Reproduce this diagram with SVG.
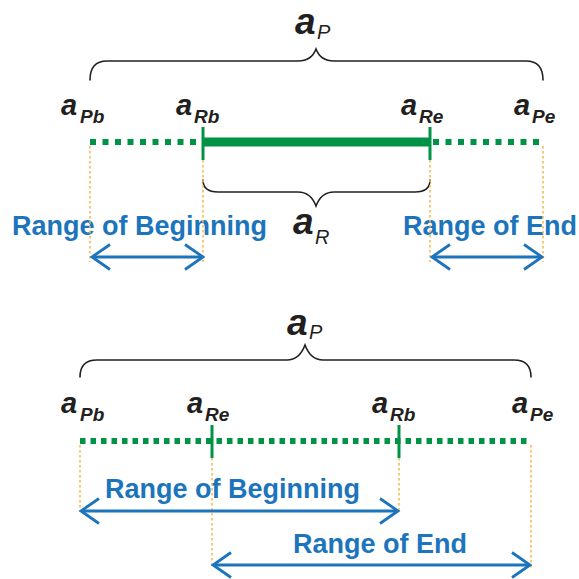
<svg xmlns="http://www.w3.org/2000/svg" width="579" height="579" viewBox="0 0 579 579">
<style>
.bg{fill:#ffffff}
.brace{fill:none;stroke:#231F20;stroke-width:1.6;stroke-linecap:round}
.big{font-family:"Liberation Sans",Arial,sans-serif;font-weight:bold;font-style:italic;font-size:37px;fill:#231F20}
.bigsub{font-family:"Liberation Sans",Arial,sans-serif;font-style:italic;font-size:20px;fill:#231F20}
.lab{font-family:"Liberation Sans",Arial,sans-serif;font-weight:bold;font-style:italic;font-size:29px;fill:#231F20}
.labsub{font-family:"Liberation Sans",Arial,sans-serif;font-weight:bold;font-style:italic;font-size:19px;fill:#231F20}
.range{font-family:"Liberation Sans",Arial,sans-serif;font-weight:bold;font-size:27px;fill:#1C75BC}
.dotT{stroke:#009245;stroke-width:6;stroke-dasharray:6 6.5;fill:none}
.dotB{stroke:#009245;stroke-width:6;stroke-dasharray:5.5 5;fill:none}
.thick{stroke:#009245;stroke-width:9;fill:none}
.tick{stroke:#009245;stroke-width:3;fill:none}
.guide{stroke:#F7B54A;stroke-width:1.5;stroke-dasharray:2.5 2.5;fill:none}
.arrow{stroke:#1C75BC;stroke-width:2.8;fill:none;marker-start:url(#chev);marker-end:url(#chev)}
</style>
<defs>
<marker id="chev" markerUnits="userSpaceOnUse" markerWidth="26" markerHeight="32" viewBox="-22 -16 26 32" refX="0" refY="0" orient="auto-start-reverse" overflow="visible">
<path d="M-18,-12.5 L0,0 L-18,12.5" fill="none" stroke="#1C75BC" stroke-width="2.8"/>
</marker>
</defs>
<rect class="bg" x="0" y="0" width="579" height="579"/>

<!-- ===== Top panel ===== -->
<g id="top-aP">
<path class="brace" d="M90,80 C90,68 95,61 107,61 L298,61 C308,61 313,57 316,49 C319,57 324,61 334,61 L526,61 C538,61 543,68 543,80"/>
<text class="big" x="295" y="34">a</text><text class="bigsub" x="317" y="39">P</text>
</g>
<g id="top-aR">
<path class="brace" d="M203,180 C203,187 207,192 218,192 L298,192 C308,192 313,198 316,206 C319,198 324,192 334,192 L415,192 C426,192 430,187 430,180"/>
<text class="big" x="293" y="234">a</text><text class="bigsub" x="315" y="244">R</text>
</g>
<g id="top-line">
<line class="dotT" x1="90" y1="142" x2="203" y2="142"/>
<line class="thick" x1="203" y1="142" x2="430" y2="142"/>
<line class="dotT" x1="433" y1="142" x2="543" y2="142"/>
<line class="tick" x1="203" y1="127" x2="203" y2="160"/>
<line class="tick" x1="430" y1="127" x2="430" y2="160"/>
</g>
<g id="top-aPb"><text class="lab" x="61" y="115">a</text><text class="labsub" x="80" y="123">Pb</text></g>
<g id="top-aRb"><text class="lab" x="176" y="115">a</text><text class="labsub" x="194" y="123">Rb</text></g>
<g id="top-aRe"><text class="lab" x="401" y="115">a</text><text class="labsub" x="419" y="123">Re</text></g>
<g id="top-aPe"><text class="lab" x="514" y="115">a</text><text class="labsub" x="532" y="123">Pe</text></g>
<g id="top-rangeB"><text class="range" x="12" y="235">Range of Beginning</text></g>
<g id="top-rangeE"><text class="range" x="403" y="235">Range of End</text></g>

<!-- ===== Bottom panel ===== -->
<g id="bot-aP">
<path class="brace" d="M80,377 C80,366 85,360 97,360 L287,360 C297,360 302,353 305,345 C308,353 313,360 323,360 L514,360 C526,360 531,366 531,377"/>
<text class="big" x="287" y="335">a</text><text class="bigsub" x="309" y="339">P</text>
</g>
<g id="bot-line">
<line class="dotB" x1="80" y1="441" x2="531" y2="441"/>
<line class="tick" x1="212" y1="425" x2="212" y2="458"/>
<line class="tick" x1="399" y1="425" x2="399" y2="458"/>
</g>
<g id="bot-aPb"><text class="lab" x="61" y="413">a</text><text class="labsub" x="80" y="421">Pb</text></g>
<g id="bot-aRe"><text class="lab" x="187" y="413">a</text><text class="labsub" x="205" y="421">Re</text></g>
<g id="bot-aRb"><text class="lab" x="372" y="413">a</text><text class="labsub" x="390" y="421">Rb</text></g>
<g id="bot-aPe"><text class="lab" x="512" y="413">a</text><text class="labsub" x="530" y="421">Pe</text></g>
<g id="bot-rangeB"><text class="range" x="105" y="498">Range of Beginning</text></g>
<g id="bot-rangeE"><text class="range" x="293" y="553">Range of End</text></g>

<!-- ===== Connectors ===== -->
<g id="connectors">
<line class="guide" x1="90" y1="146" x2="90" y2="262"/>
<line class="guide" x1="203" y1="160" x2="203" y2="262"/>
<line class="guide" x1="430" y1="160" x2="430" y2="262"/>
<line class="guide" x1="543" y1="146" x2="543" y2="262"/>
<line class="arrow" x1="92" y1="257" x2="203" y2="257"/>
<line class="arrow" x1="432" y1="257" x2="542" y2="257"/>
<line class="guide" x1="80" y1="445" x2="80" y2="512"/>
<line class="guide" x1="212" y1="458" x2="212" y2="568"/>
<line class="guide" x1="399" y1="458" x2="399" y2="512"/>
<line class="guide" x1="531" y1="445" x2="531" y2="568"/>
<line class="arrow" x1="81" y1="511" x2="398" y2="511"/>
<line class="arrow" x1="213" y1="565" x2="530" y2="565"/>
</g>
</svg>
